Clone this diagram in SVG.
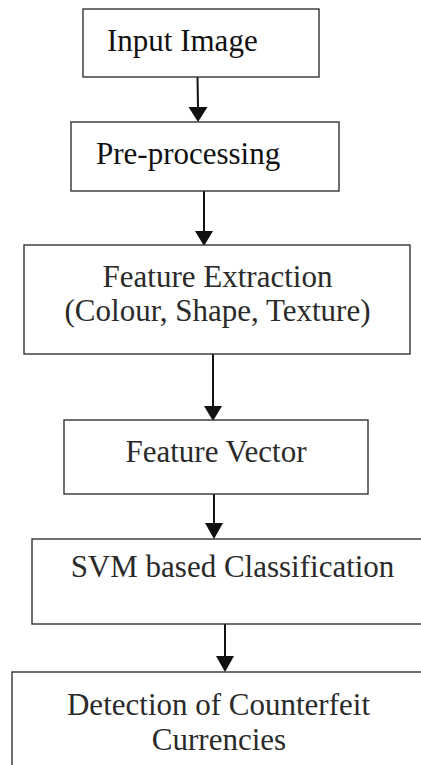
<svg xmlns="http://www.w3.org/2000/svg" width="421" height="765" viewBox="0 0 421 765">
<style>
.box{fill:none;stroke:#333;stroke-width:1.4}
.c{text-anchor:middle}
</style>
<rect width="421" height="765" fill="#fff"/>
<g id="connectors" stroke="#111" stroke-width="2">
<line x1="197.5" y1="77" x2="198" y2="108"/>
<path d="M188.5,107 L207.5,107 L198,122 Z" fill="#111" stroke="none"/>
<line x1="204" y1="191" x2="204" y2="232"/>
<path d="M195,231 L213,231 L204,246 Z" fill="#111" stroke="none"/>
<line x1="213" y1="354" x2="213" y2="407"/>
<path d="M204,406 L222,406 L213,421 Z" fill="#111" stroke="none"/>
<line x1="214" y1="494" x2="214" y2="524"/>
<path d="M205,523 L223,523 L214,539 Z" fill="#111" stroke="none"/>
<line x1="225" y1="624" x2="225" y2="657"/>
<path d="M216,656 L234,656 L225,672 Z" fill="#111" stroke="none"/>
</g>
<g font-family="Liberation Serif, serif" font-size="31" fill="#1a1a1a">
<g id="input-image">
<rect class="box" x="83" y="9" width="236" height="68"/>
<text x="107" y="51" fill="#111">Input Image</text>
</g>
<g id="pre-processing">
<rect class="box" x="71" y="122" width="268" height="69"/>
<text x="96" y="164" fill="#111">Pre-processing</text>
</g>
<g id="feature-extraction">
<rect class="box" x="24" y="245" width="386" height="109"/>
<text class="c" x="217.5" y="287" fill="#2a2a2a">Feature Extraction</text>
<text class="c" x="217.5" y="321" fill="#2a2a2a">(Colour, Shape, Texture)</text>
</g>
<g id="feature-vector">
<rect class="box" x="64" y="420" width="304" height="74"/>
<text class="c" x="216" y="462" fill="#2a2a2a">Feature Vector</text>
</g>
<g id="svm">
<rect class="box" x="32" y="539" width="400" height="85"/>
<text class="c" x="232.5" y="577" fill="#2a2a2a">SVM based Classification</text>
</g>
<g id="detection">
<rect class="box" x="12" y="672" width="420" height="110"/>
<text class="c" x="218.5" y="715" fill="#2a2a2a">Detection of Counterfeit</text>
<text class="c" x="219" y="750" fill="#2a2a2a">Currencies</text>
</g>
</g>
</svg>
